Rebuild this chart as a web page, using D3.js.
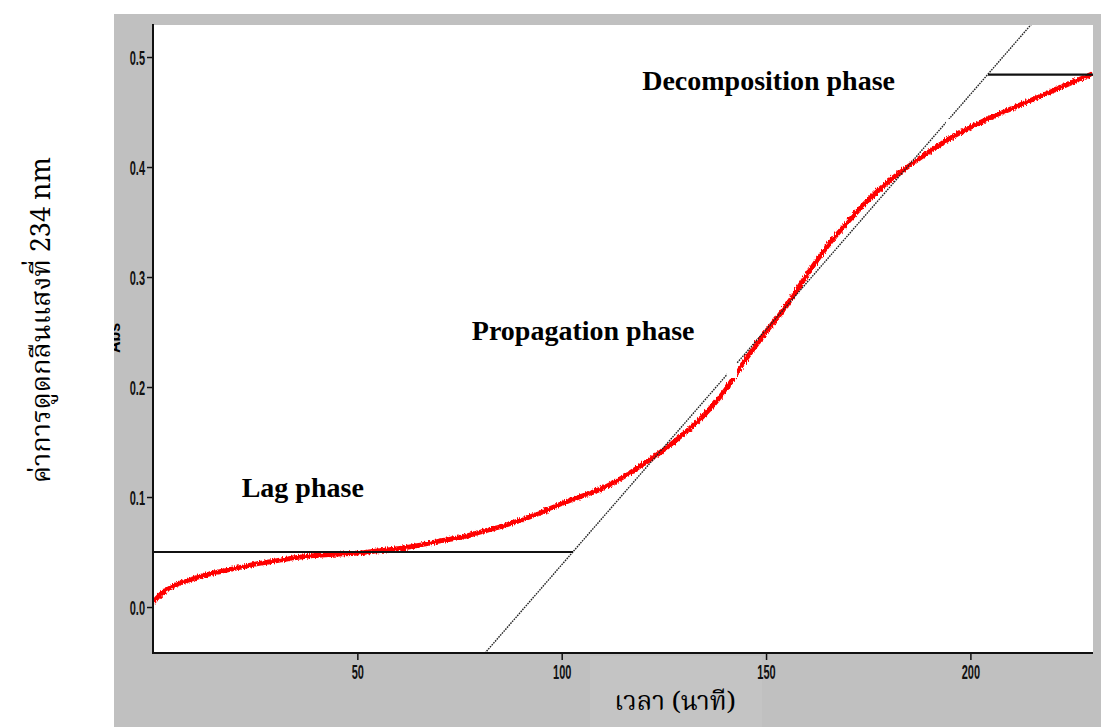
<!DOCTYPE html>
<html>
<head>
<meta charset="utf-8">
<script src="https://cdn.jsdelivr.net/npm/d3@7"></script>
<style>
  html, body { margin: 0; padding: 0; background: #ffffff; }
  svg { display: block; }
</style>
</head>
<body>
<svg id="chart" width="1101" height="727"></svg>
<script>
// Absorbance at 234 nm over time (minutes)
const timeMin = [0, 2, 5, 10, 15, 20, 25, 30, 35, 40, 45, 50, 55, 60, 65, 70, 75, 80, 85, 90,
  95, 100, 105, 110, 115, 120, 125, 130, 135, 140, 145, 150, 155, 160, 165, 170, 175, 180,
  185, 190, 195, 200, 205, 210, 215, 220, 225, 230];
const absorbance = [0.004, 0.012, 0.019, 0.026, 0.031, 0.035, 0.039, 0.042, 0.045, 0.047,
  0.048, 0.049, 0.051, 0.053, 0.056, 0.060, 0.063, 0.068, 0.073, 0.079, 0.086, 0.094, 0.101,
  0.108, 0.118, 0.130, 0.143, 0.158, 0.175, 0.197, 0.225, 0.250, 0.274, 0.302, 0.328, 0.350,
  0.370, 0.387, 0.401, 0.414, 0.426, 0.436, 0.445, 0.453, 0.461, 0.469, 0.477, 0.485];

// Tangent construction lines
const lagLevel = 0.050;          // lag-phase baseline
const lagEnd = 102.8;            // where the propagation tangent meets the baseline
const plateauLevel = 0.484;      // decomposition plateau
const plateauStart = 204.3;      // where the propagation tangent meets the plateau
const tangentEnds = [[81.2, -0.042], [215.2, 0.531]];

const xTicks = [50, 100, 150, 200];
const yTicks = [0.0, 0.1, 0.2, 0.3, 0.4, 0.5];

const phaseLabels = [
  { text: "Lag phase", t: 21.7, a: 0.1 },
  { text: "Propagation phase", t: 78, a: 0.243 },
  { text: "Decomposition phase", t: 119.7, a: 0.470 }
];

const xTitle = "เวลา (นาที)";
const yTitle = "ค่าการดูดกลืนแสงที่ 234 nm";
const yStub = "Abs";

const svg = d3.select("#chart");

// grey frame and white plotting area
const frame = { x0: 114, y0: 14, x1: 1101, y1: 727 };
const plot = { x0: 153, y0: 25, x1: 1093, y1: 653 };

// slight jitter on the recorded trace
const defs = svg.append("defs");
const jitter = defs.append("filter").attr("id", "jitter")
  .attr("x", "-2%").attr("y", "-2%").attr("width", "104%").attr("height", "104%");
jitter.append("feTurbulence")
  .attr("type", "fractalNoise").attr("baseFrequency", "0.9 0.3")
  .attr("numOctaves", 1).attr("seed", 3).attr("result", "noise");
jitter.append("feDisplacementMap")
  .attr("in", "SourceGraphic").attr("in2", "noise")
  .attr("scale", 5).attr("xChannelSelector", "R").attr("yChannelSelector", "G");

svg.append("rect")
  .attr("x", frame.x0).attr("y", frame.y0)
  .attr("width", frame.x1 - frame.x0).attr("height", frame.y1 - frame.y0)
  .attr("fill", "#c0c0c0");
svg.append("rect")
  .attr("x", 590).attr("y", 656).attr("width", 172).attr("height", 71)
  .attr("fill", "#c4c4c4");
svg.append("rect")
  .attr("x", plot.x0).attr("y", plot.y0)
  .attr("width", plot.x1 - plot.x0).attr("height", plot.y1 - plot.y0)
  .attr("fill", "#ffffff");

const x = d3.scaleLinear().domain([0, 230]).range([plot.x0, plot.x1]);
const y = d3.scaleLinear().domain([-0.0418, 0.5291]).range([plot.y1, plot.y0]);

defs.append("clipPath").attr("id", "plotClip")
  .append("rect")
  .attr("x", plot.x0).attr("y", plot.y0)
  .attr("width", plot.x1 - plot.x0).attr("height", plot.y1 - plot.y0);
defs.append("clipPath").attr("id", "frameClip")
  .append("rect")
  .attr("x", frame.x0).attr("y", frame.y0)
  .attr("width", frame.x1 - frame.x0).attr("height", frame.y1 - frame.y0);

const g = svg.append("g").attr("clip-path", "url(#plotClip)");

// measured absorbance curve
const series = timeMin.map((t, i) => [t, absorbance[i]]);
g.append("g").attr("filter", "url(#jitter)")
  .append("path")
  .datum(series)
  .attr("fill", "none")
  .attr("stroke", "#ff0000")
  .attr("stroke-width", 4.8)
  .attr("stroke-linejoin", "round")
  .attr("d", d3.line().x(d => x(d[0])).y(d => y(d[1])).curve(d3.curveMonotoneX));

// propagation tangent (dotted)
g.append("line")
  .attr("x1", x(tangentEnds[0][0])).attr("y1", y(tangentEnds[0][1]))
  .attr("x2", x(tangentEnds[1][0])).attr("y2", y(tangentEnds[1][1]))
  .attr("stroke", "#222")
  .attr("stroke-width", 1.4)
  .attr("stroke-dasharray", "1.6,1");

// lag baseline and plateau
g.append("line")
  .attr("x1", x(0)).attr("x2", x(lagEnd))
  .attr("y1", y(lagLevel)).attr("y2", y(lagLevel))
  .attr("stroke", "#111").attr("stroke-width", 2.2);
g.append("line")
  .attr("x1", x(plateauStart)).attr("x2", x(230))
  .attr("y1", y(plateauLevel)).attr("y2", y(plateauLevel))
  .attr("stroke", "#111").attr("stroke-width", 2.2);

// small breaks in the traces
g.append("rect")
  .attr("x", 727).attr("y", 363).attr("width", 10).attr("height", 15)
  .attr("fill", "#ffffff");
g.append("rect")
  .attr("x", 946).attr("y", 119).attr("width", 5).attr("height", 7)
  .attr("fill", "#ffffff");

// axes
const tickFont = "'Liberation Sans', Arial, sans-serif";
const yAxis = svg.append("g")
  .attr("transform", `translate(${plot.x0},0)`)
  .call(d3.axisLeft(y).tickValues(yTicks).tickSize(6).tickPadding(2).tickFormat(d3.format(".1f")));
const xAxis = svg.append("g")
  .attr("transform", `translate(0,${plot.y1})`)
  .call(d3.axisBottom(x).tickValues(xTicks).tickSize(7).tickPadding(5).tickFormat(d3.format("d")));

[yAxis, xAxis].forEach(ax => {
  ax.select(".domain").remove();
  ax.selectAll(".tick line").attr("stroke", "#111").attr("stroke-width", 1.5);
  ax.selectAll(".tick text")
    .attr("fill", "#111")
    .style("font-family", tickFont)
    .style("font-size", "20px")
    .style("font-weight", "bold");
});
// narrow tick numerals
const squeeze = 0.55;
yAxis.selectAll(".tick text").each(function () {
  const t = d3.select(this);
  const xv = +t.attr("x");
  t.attr("x", xv / squeeze).attr("transform", `scale(${squeeze},1)`).attr("dy", "0.36em");
});
xAxis.selectAll(".tick text").each(function () {
  d3.select(this).attr("transform", `scale(${squeeze},1)`);
});

// axis lines
svg.append("line")
  .attr("x1", plot.x0).attr("x2", plot.x0)
  .attr("y1", plot.y0 - 1).attr("y2", plot.y1 + 1)
  .attr("stroke", "#111").attr("stroke-width", 2);
svg.append("line")
  .attr("x1", plot.x0).attr("x2", plot.x1)
  .attr("y1", plot.y1).attr("y2", plot.y1)
  .attr("stroke", "#111").attr("stroke-width", 2);

// phase annotations
svg.selectAll("text.phase")
  .data(phaseLabels)
  .join("text")
  .attr("class", "phase")
  .attr("x", d => x(d.t))
  .attr("y", d => y(d.a))
  .attr("fill", "#000")
  .style("font-family", "'Liberation Serif', 'Times New Roman', serif")
  .style("font-weight", "bold")
  .style("font-size", "28px")
  .text(d => d.text);

// axis titles
const thaiFont = "'Noto Serif Thai', 'Noto Sans Thai', 'Tlwg Typo', Norasi, Garuda, 'DejaVu Serif', serif";
svg.append("text")
  .attr("x", 675).attr("y", 710)
  .attr("text-anchor", "middle")
  .attr("fill", "#000")
  .style("font-family", thaiFont)
  .style("font-size", "26px")
  .text(xTitle);

svg.append("text")
  .attr("transform", "translate(50,320) rotate(-90)")
  .attr("text-anchor", "middle")
  .attr("fill", "#000")
  .style("font-family", thaiFont)
  .style("font-size", "27px")
  .text(yTitle);

// clipped axis stub at the frame edge
svg.append("g").attr("clip-path", "url(#frameClip)")
  .append("text")
  .attr("transform", "translate(120,338) rotate(-90)")
  .attr("text-anchor", "middle")
  .attr("fill", "#000")
  .style("font-family", tickFont)
  .style("font-weight", "bold")
  .style("font-size", "16px")
  .text(yStub);
</script>
</body>
</html>
